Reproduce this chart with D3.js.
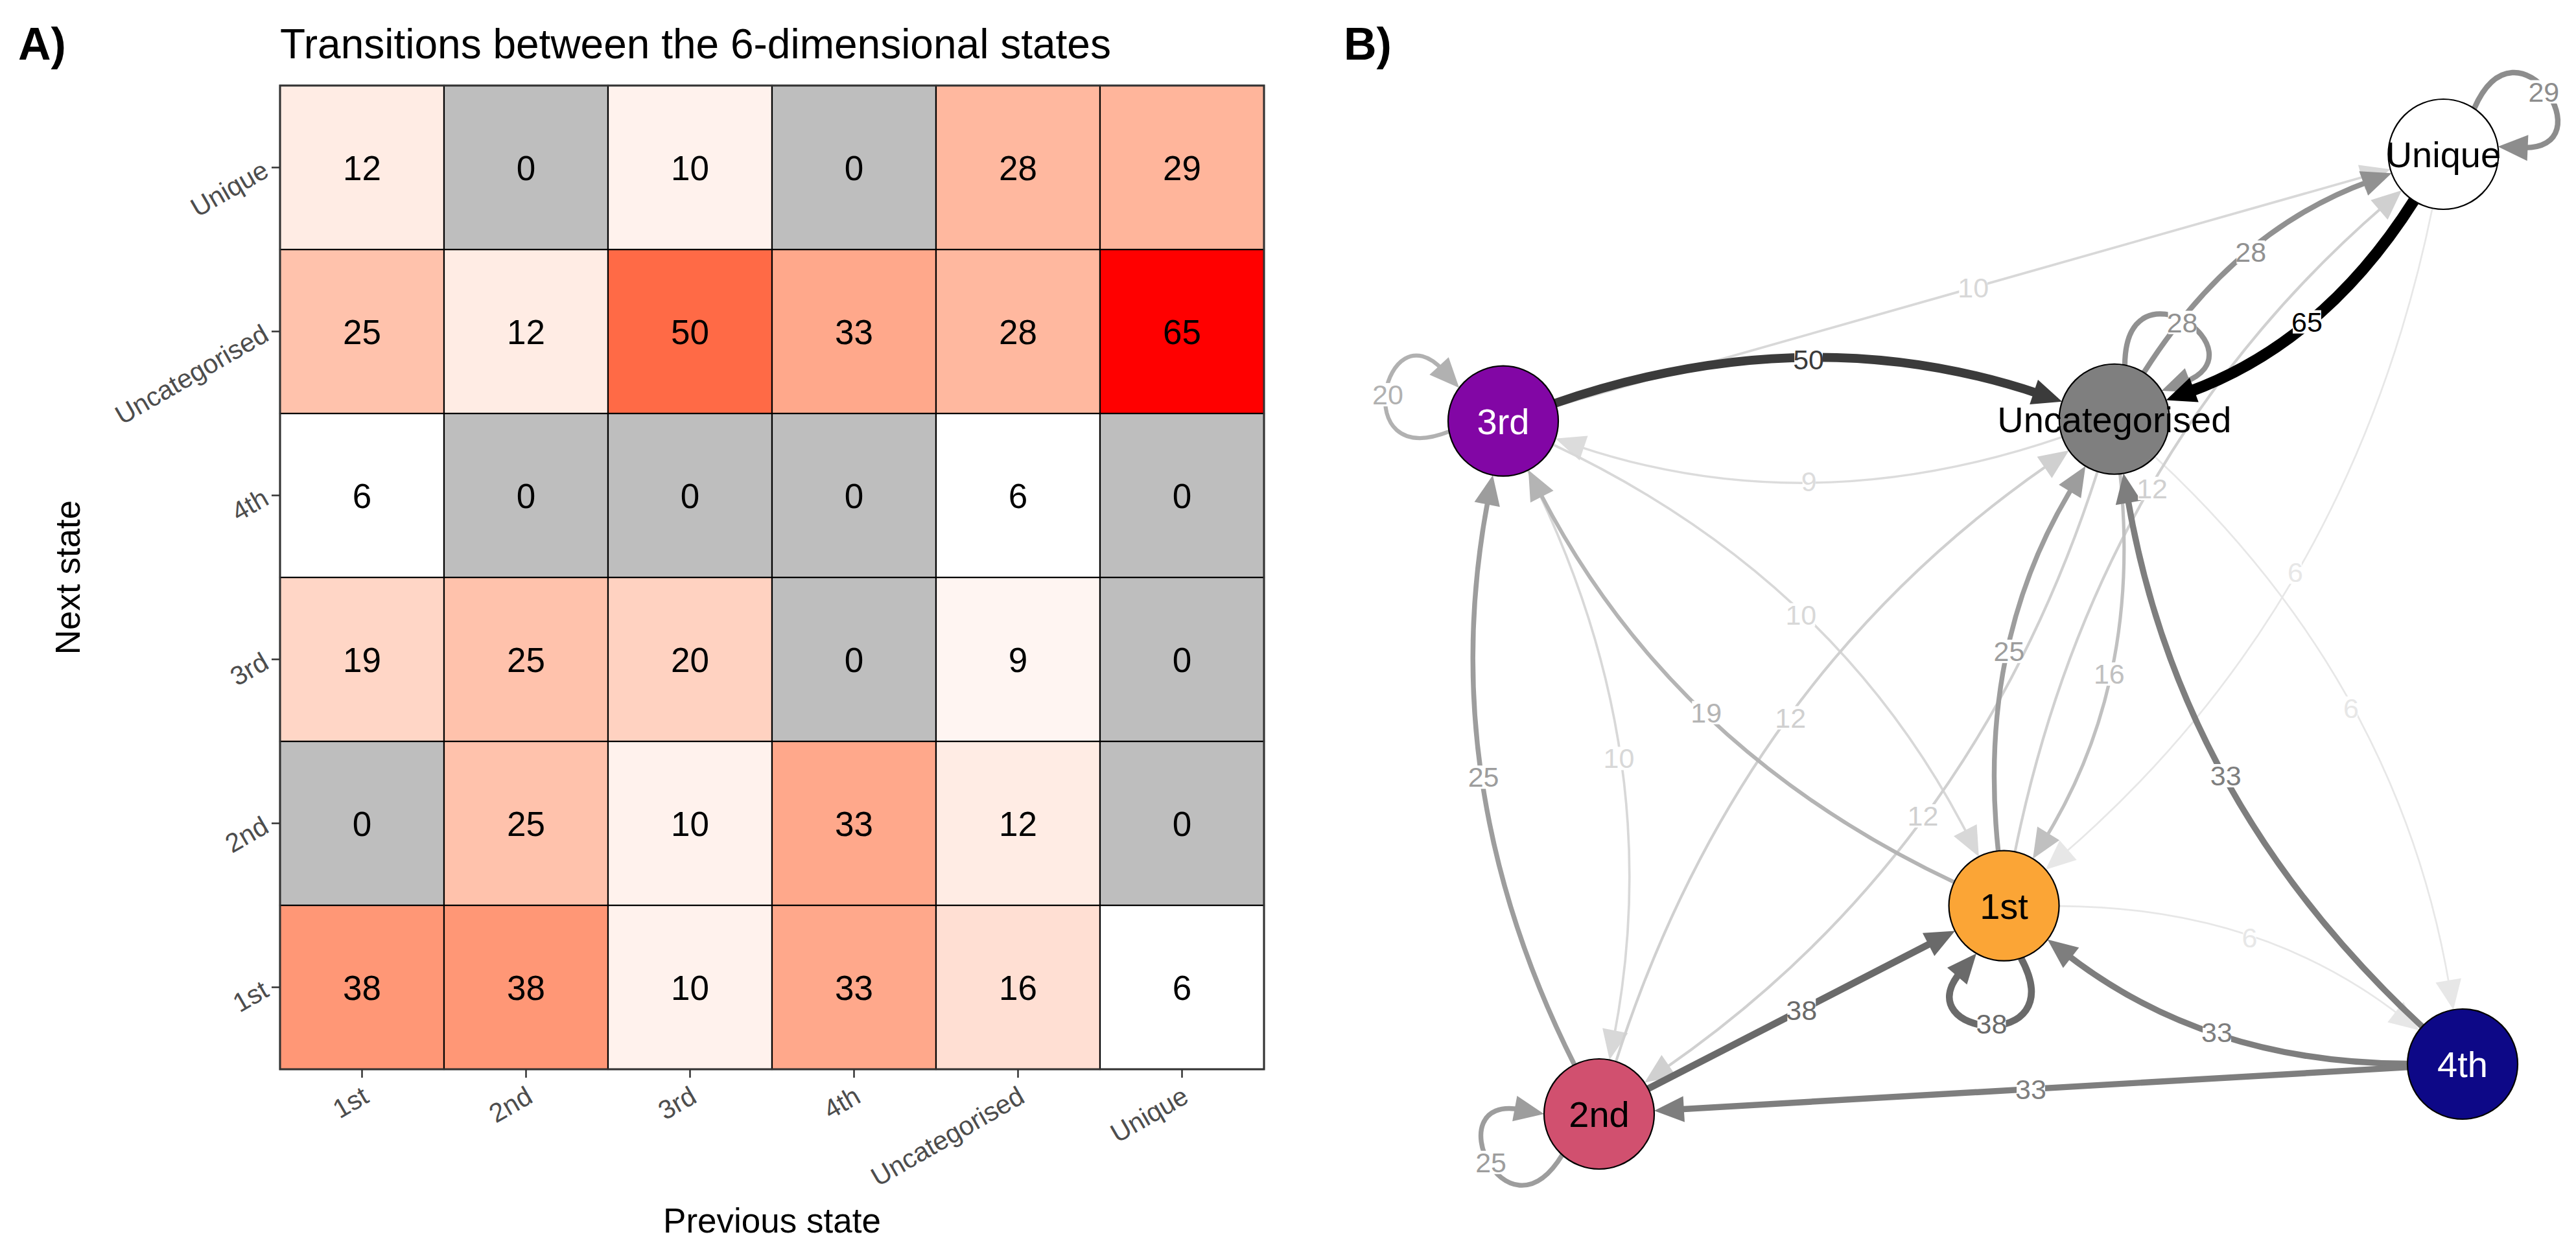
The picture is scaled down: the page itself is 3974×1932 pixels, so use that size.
<!DOCTYPE html>
<html><head><meta charset="utf-8">
<script src="https://cdn.jsdelivr.net/npm/d3@7/dist/d3.min.js"></script>
<style>
body{margin:0;background:#fff}
svg text{font-family:"Liberation Sans",Arial,Helvetica,sans-serif}
</style>
</head><body>
<svg id="chart" width="3974" height="1932"></svg>
<script>
// ---------------- DATA ----------------
const states = ["1st","2nd","3rd","4th","Uncategorised","Unique"];
// Rows: next state (same order as states); columns: previous state
const next1st          = [38, 38, 10, 33, 16,  6];
const next2nd          = [ 0, 25, 10, 33, 12,  0];
const next3rd          = [19, 25, 20,  0,  9,  0];
const next4th          = [ 6,  0,  0,  0,  6,  0];
const nextUncategorised= [25, 12, 50, 33, 28, 65];
const nextUnique       = [12,  0, 10,  0, 28, 29];
const transitions = [next1st, next2nd, next3rd, next4th, nextUncategorised, nextUnique];

const titleText = "Transitions between the 6-dimensional states";
const xTitle = "Previous state";
const yTitle = "Next state";

// network layout (normalised qgraph-style layout) and node styling
const layoutX = [0.522, 0.100, 0.000, 1.000, 0.637, 0.980];
const layoutY = [0.217, 0.000, 0.722, 0.052, 0.724, 1.000];
const nodeFill = ["#FBA536", "#D1506F", "#8206A5", "#0D0887", "#7F7F7F", "#FFFFFF"];
const nodeLabelColor = ["#000", "#000", "#fff", "#fff", "#000", "#000"];
const loopRotation = [96, 156, -167, 0, -55, -32];

// ---------------- SETUP ----------------
const svg = d3.select("#chart");
const FONT = "'Liberation Sans',Arial,sans-serif";

// ---------------- PANEL A: heatmap ----------------
const x = d3.scaleBand().domain(states).range([432, 1950]);
const y = d3.scaleBand().domain(states).range([1650, 132]);
const nonZero = transitions.flat().filter(v => v > 0);
const color = d3.scaleLinear()
  .domain([d3.min(nonZero), d3.max(nonZero)])
  .range(["#FFFFFF", "#FF0000"])
  .interpolate(d3.interpolateLab);
const naColor = "#BEBEBE";

const cells = [];
transitions.forEach((row, i) => row.forEach((v, j) => cells.push({next: states[i], prev: states[j], v})));

const gA = svg.append("g");
gA.selectAll("rect.cell").data(cells).join("rect")
  .attr("class", "cell")
  .attr("x", d => x(d.prev)).attr("y", d => y(d.next))
  .attr("width", x.bandwidth()).attr("height", y.bandwidth())
  .attr("fill", d => d.v > 0 ? color(d.v) : naColor)
  .attr("stroke", "#000").attr("stroke-width", 2.2);

gA.selectAll("text.val").data(cells).join("text")
  .attr("class", "val")
  .attr("x", d => x(d.prev) + x.bandwidth() / 2)
  .attr("y", d => y(d.next) + y.bandwidth() / 2)
  .attr("text-anchor", "middle").attr("dy", "0.36em")
  .attr("font-size", 53).attr("fill", "#000")
  .text(d => d.v);

// panel border
gA.append("rect")
  .attr("x", x.range()[0]).attr("y", y.range()[1])
  .attr("width", x.range()[1] - x.range()[0]).attr("height", y.range()[0] - y.range()[1])
  .attr("fill", "none").attr("stroke", "#333333").attr("stroke-width", 3);

// x axis
const gx = gA.append("g").attr("transform", `translate(0,${y.range()[0]})`)
  .call(d3.axisBottom(x).tickSize(13).tickSizeOuter(0));
gx.select(".domain").remove();
gx.selectAll(".tick line").attr("stroke", "#333333").attr("stroke-width", 2.5);
gx.selectAll(".tick text")
  .attr("x", 0).attr("y", 0).attr("dy", "0.72em")
  .attr("transform", "translate(-2,24) rotate(-30)")
  .attr("text-anchor", "end")
  .attr("font-size", 41).attr("fill", "#4D4D4D")
  .style("font-family", FONT);

// y axis
const gy = gA.append("g").attr("transform", `translate(${x.range()[0]},0)`)
  .call(d3.axisLeft(y).tickSize(13).tickSizeOuter(0));
gy.select(".domain").remove();
gy.selectAll(".tick line").attr("stroke", "#333333").attr("stroke-width", 2.5);
gy.selectAll(".tick text")
  .attr("x", 0).attr("y", 0).attr("dy", "0.35em")
  .attr("transform", "translate(-22,0) rotate(-30)")
  .attr("text-anchor", "end")
  .attr("font-size", 41).attr("fill", "#4D4D4D")
  .style("font-family", FONT);

// titles
gA.append("text").attr("x", 432).attr("y", 90).attr("font-size", 64).attr("fill", "#000").text(titleText);
gA.append("text").attr("x", (x.range()[0] + x.range()[1]) / 2).attr("y", 1902)
  .attr("text-anchor", "middle").attr("font-size", 53).attr("fill", "#000").text(xTitle);
gA.append("text").attr("transform", `translate(123,${(y.range()[0] + y.range()[1]) / 2}) rotate(-90)`)
  .attr("text-anchor", "middle").attr("font-size", 53).attr("fill", "#000").text(yTitle);
gA.append("text").attr("x", 28).attr("y", 92).attr("font-size", 70).attr("font-weight", "bold").text("A)");

// ---------------- PANEL B: network ----------------
const gB = svg.append("g");
gB.append("text").attr("x", 2073).attr("y", 92).attr("font-size", 70).attr("font-weight", "bold").text("B)");

const nx = d3.scaleLinear().domain([0, 1]).range([2319, 3799]);
const ny = d3.scaleLinear().domain([0, 1]).range([1719, 238]);
const nodes = states.map((s, i) => ({name: s, x: nx(layoutX[i]), y: ny(layoutY[i]), i}));
const NR = 85;          // node radius
const AL = 46, AW = 20; // arrow length, half width
const maxW = d3.max(nonZero);
const edgeColor = w => { const g = Math.round(255 * (1 - w / maxW)); return d3.rgb(g, g, g).formatHex(); };
const edgeWidth = d3.scaleLinear().domain([0, maxW]).range([1.2, 17.4]);

const edges = [];
transitions.forEach((row, to) => row.forEach((w, from) => { if (w > 0) edges.push({from, to, w}); }));
edges.sort((a, b) => a.w - b.w);

const unit = (dx, dy) => { const l = Math.hypot(dx, dy) || 1; return [dx / l, dy / l]; };
const gEdges = gB.append("g"), gLabels = gB.append("g");
const labelPos = [];
const DEG = Math.PI / 180;

edges.forEach(e => {
  const A = nodes[e.from], B = nodes[e.to];
  const col = edgeColor(e.w), sw = edgeWidth(e.w);
  let pathD, tip, dir, lab;
  if (e.from === e.to) {
    const th = loopRotation[e.from] * DEG;
    const a0 = th - 24 * DEG, a1 = th + 24 * DEG;
    const bA = 31 * DEG;
    const b0 = th - bA, b1 = th + bA;
    const RR = 254;
    const P0 = [A.x + NR * Math.cos(a0), A.y + NR * Math.sin(a0)];
    const P1 = [A.x + RR * Math.cos(b0), A.y + RR * Math.sin(b0)];
    const P2 = [A.x + RR * Math.cos(b1), A.y + RR * Math.sin(b1)];
    tip = [A.x + NR * Math.cos(a1), A.y + NR * Math.sin(a1)];
    dir = unit(tip[0] - P2[0], tip[1] - P2[1]);
    const end = [tip[0] - dir[0] * AL * 0.8, tip[1] - dir[1] * AL * 0.8];
    pathD = `M${P0}C${P1} ${P2} ${end}`;
    const far = (2 * NR * Math.cos(24 * DEG) + 6 * RR * Math.cos(bA)) / 8;
    lab = [A.x + far * Math.cos(th), A.y + far * Math.sin(th)];
  } else {
    const dx = B.x - A.x, dy = B.y - A.y, dist = Math.hypot(dx, dy);
    const reciprocal = transitions[e.from][e.to] > 0;
    const M = [(A.x + B.x) / 2, (A.y + B.y) / 2];
    const k = reciprocal ? 0.17 * dist : 0;
    const C = [M[0] + dy / dist * k, M[1] - dx / dist * k];
    const us = unit(C[0] - A.x, C[1] - A.y);
    const start = [A.x + us[0] * NR, A.y + us[1] * NR];
    const ue = unit(C[0] - B.x, C[1] - B.y);
    tip = [B.x + ue[0] * NR, B.y + ue[1] * NR];
    dir = unit(tip[0] - C[0], tip[1] - C[1]);
    const end = [tip[0] - dir[0] * AL * 0.8, tip[1] - dir[1] * AL * 0.8];
    pathD = `M${start}Q${C} ${end}`;
    lab = [0.25 * start[0] + 0.5 * C[0] + 0.25 * tip[0], 0.25 * start[1] + 0.5 * C[1] + 0.25 * tip[1]];
  }
  gEdges.append("path").attr("d", pathD).attr("fill", "none")
    .attr("stroke", col).attr("stroke-width", sw);
  const base = [tip[0] - dir[0] * AL, tip[1] - dir[1] * AL];
  const pr = [-dir[1], dir[0]];
  gEdges.append("path")
    .attr("d", `M${tip}L${[base[0] + pr[0] * AW, base[1] + pr[1] * AW]}L${[base[0] - pr[0] * AW, base[1] - pr[1] * AW]}Z`)
    .attr("fill", col);
  labelPos.push({x: lab[0], y: lab[1], w: e.w, col});
});

labelPos.forEach(l => {
  const g = gLabels.append("g");
  const bg = g.append("rect").attr("fill", "#fff");
  const t = g.append("text").attr("x", l.x).attr("y", l.y).attr("text-anchor", "middle")
    .attr("dy", "0.36em").attr("font-size", 43).attr("fill", l.col).text(l.w);
  const bb = t.node().getBBox();
  bg.attr("x", bb.x + 2).attr("y", bb.y + 6).attr("width", bb.width - 4).attr("height", bb.height - 12);
});

const gNodes = gB.append("g");
gNodes.selectAll("circle").data(nodes).join("circle")
  .attr("cx", d => d.x).attr("cy", d => d.y).attr("r", NR)
  .attr("fill", d => nodeFill[d.i]).attr("stroke", "#000").attr("stroke-width", 2.2);
gNodes.selectAll("text").data(nodes).join("text")
  .attr("x", d => d.x).attr("y", d => d.y).attr("text-anchor", "middle").attr("dy", "0.36em")
  .attr("font-size", 56).attr("fill", d => nodeLabelColor[d.i]).text(d => d.name);
</script>
</body></html>
